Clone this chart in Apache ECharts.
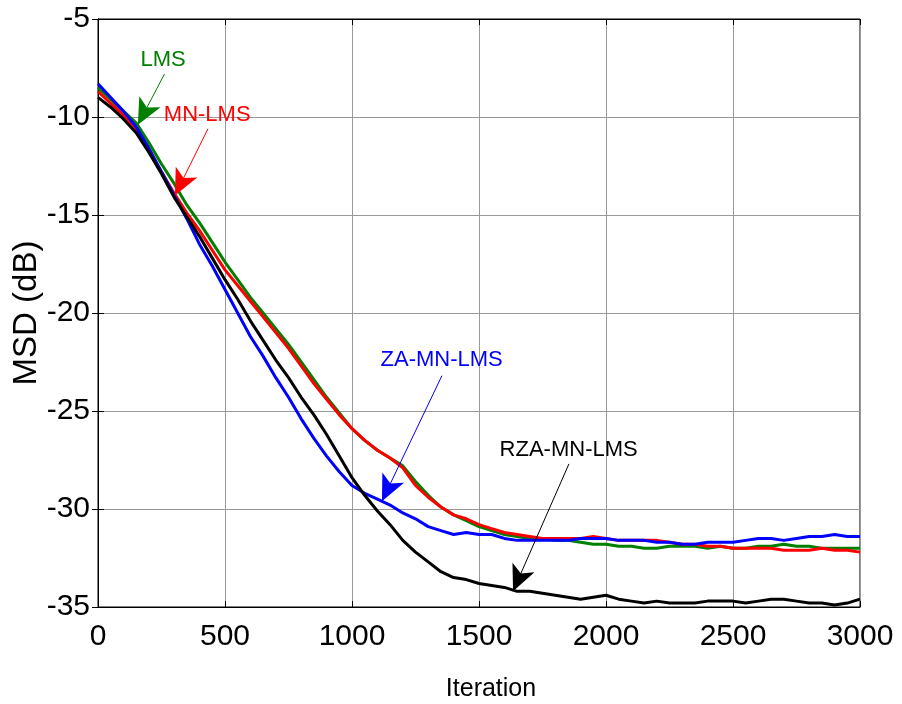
<!DOCTYPE html>
<html>
<head>
<meta charset="utf-8">
<script src="https://cdn.jsdelivr.net/npm/echarts@6/dist/echarts.min.js"></script>
<style>
  html, body { margin: 0; padding: 0; background: #fff; }
  #chart { width: 902px; height: 704px; }
</style>
</head>
<body>
<div id="chart"></div>
<script>
// iteration index (every 50 samples)
const iterations = [
  0, 50, 100, 150, 200, 250, 300, 350, 400, 450,
  500, 550, 600, 650, 700, 750, 800, 850, 900, 950,
  1000, 1050, 1100, 1150, 1200, 1250, 1300, 1350, 1400, 1450,
  1500, 1550, 1600, 1650, 1700, 1750, 1800, 1850, 1900, 1950,
  2000, 2050, 2100, 2150, 2200, 2250, 2300, 2350, 2400, 2450,
  2500, 2550, 2600, 2650, 2700, 2750, 2800, 2850, 2900, 2950, 3000
]
// MSD in dB for each algorithm
const lmsMsd = [
  -8.5, -9.1, -9.7, -10.3, -11.3, -12.4, -13.4, -14.5, -15.4, -16.4,
  -17.4, -18.3, -19.2, -20.0, -20.8, -21.6, -22.5, -23.4, -24.3, -25.1,
  -25.9, -26.5, -27.0, -27.4, -27.8, -28.6, -29.3, -29.9, -30.3, -30.6,
  -30.9, -31.1, -31.3, -31.4, -31.5, -31.5, -31.6, -31.6, -31.7, -31.8,
  -31.8, -31.9, -31.9, -32.0, -32.0, -31.9, -31.9, -31.9, -32.0, -31.9,
  -32.0, -32.0, -31.9, -31.9, -31.8, -31.9, -31.9, -32.0, -32.0, -32.0, -32.0
]
const mnLmsMsd = [
  -8.7, -9.3, -9.9, -10.6, -11.6, -12.8, -13.9, -14.9, -15.8, -16.8,
  -17.8, -18.6, -19.4, -20.2, -21.0, -21.8, -22.7, -23.6, -24.4, -25.2,
  -25.9, -26.5, -27.0, -27.4, -27.9, -28.8, -29.4, -29.9, -30.3, -30.5,
  -30.8, -31.0, -31.2, -31.3, -31.4, -31.5, -31.5, -31.5, -31.5, -31.4,
  -31.5, -31.6, -31.6, -31.6, -31.6, -31.7, -31.8, -31.8, -31.9, -31.9,
  -32.0, -32.0, -32.0, -32.0, -32.1, -32.1, -32.1, -32.0, -32.1, -32.1, -32.2
]
const zaMnLmsMsd = [
  -8.3, -9.0, -9.7, -10.5, -11.6, -12.8, -14.0, -15.2, -16.5, -17.6,
  -18.8, -20.0, -21.2, -22.2, -23.3, -24.3, -25.4, -26.4, -27.3, -28.1,
  -28.8, -29.2, -29.5, -29.8, -30.2, -30.5, -30.9, -31.1, -31.3, -31.2,
  -31.3, -31.3, -31.5, -31.6, -31.6, -31.6, -31.6, -31.6, -31.5, -31.5,
  -31.5, -31.6, -31.6, -31.6, -31.7, -31.7, -31.8, -31.8, -31.7, -31.7,
  -31.7, -31.6, -31.5, -31.5, -31.6, -31.5, -31.4, -31.4, -31.3, -31.4, -31.4
]
const rzaMnLmsMsd = [
  -9.0, -9.5, -10.1, -10.8, -11.8, -12.9, -14.1, -15.1, -16.1, -17.2,
  -18.3, -19.3, -20.4, -21.4, -22.4, -23.3, -24.3, -25.2, -26.2, -27.3,
  -28.4, -29.3, -30.1, -30.8, -31.6, -32.2, -32.7, -33.2, -33.5, -33.6,
  -33.8, -33.9, -34.0, -34.2, -34.2, -34.3, -34.4, -34.5, -34.6, -34.5,
  -34.4, -34.6, -34.7, -34.8, -34.7, -34.8, -34.8, -34.8, -34.7, -34.7,
  -34.7, -34.8, -34.7, -34.6, -34.6, -34.7, -34.8, -34.8, -34.9, -34.8, -34.6
]

const seriesNames = ['LMS', 'MN-LMS', 'ZA-MN-LMS', 'RZA-MN-LMS']
const seriesColors = ['#008000', '#ff0000', '#0000ff', '#000000']

// annotation: text centre, arrow start, arrow tip (data coords)
const notes = [
  { text: [256, -7.1], from: [262, -7.8], to: [157, -10.4] },
  { text: [430, -9.9], from: [433, -10.6], to: [303, -14.0] },
  { text: [1353, -22.4], from: [1354, -23.2], to: [1118, -29.6] },
  { text: [1853, -27.0], from: [1854, -27.7], to: [1634, -34.2] }
]

const font = 'Arial, "Liberation Sans", Helvetica, sans-serif'
const chart = echarts.init(document.getElementById('chart'))

function pairs(ys) {
  return iterations.map((x, i) => [x, ys[i]])
}

const allData = [lmsMsd, mnLmsMsd, zaMnLmsMsd, rzaMnLmsMsd]

const series = allData.map((ys, i) => ({
  name: seriesNames[i],
  type: 'line',
  data: pairs(ys),
  showSymbol: false,
  symbol: 'none',
  lineStyle: { color: seriesColors[i], width: 3 },
  itemStyle: { color: seriesColors[i] },
  animation: false,
  markLine: {
    silent: true,
    animation: false,
    symbol: ['none', 'arrow'],
    symbolSize: [18, 26],
    label: { show: false },
    lineStyle: { color: seriesColors[i], width: 1, type: 'solid' },
    data: [[{ coord: notes[i].from }, { coord: notes[i].to }]]
  }
}))

const tickStyle = { show: true, inside: true, length: 6, lineStyle: { color: '#000', width: 1 } }

chart.setOption({
  backgroundColor: '#fff',
  animation: false,
  grid: {
    left: 98, right: 42, top: 19, bottom: 97,
    outerBoundsMode: 'none',
    show: true, borderColor: '#000', borderWidth: 1, containLabel: false
  },
  xAxis: [{
    type: 'value', min: 0, max: 3000, interval: 500,
    name: 'Iteration', nameLocation: 'middle', nameGap: 70, nameMoveOverlap: false,
    nameTextStyle: { fontSize: 25, fontFamily: font, color: '#000', padding: [0, 0, 0, 24] },
    axisLine: { show: true, lineStyle: { color: '#000', width: 1 } },
    axisTick: tickStyle,
    axisLabel: { fontSize: 30, fontFamily: font, color: '#000', margin: 15, formatter: v => String(v) },
    splitLine: { show: true, lineStyle: { color: '#999', width: 1 } }
  }, {
    type: 'value', min: 0, max: 3000, interval: 500, position: 'top',
    axisLine: { show: true, lineStyle: { color: '#000', width: 1 } },
    axisTick: tickStyle, axisLabel: { show: false }, splitLine: { show: false }
  }],
  yAxis: [{
    type: 'value', min: -35, max: -5, interval: 5,
    name: 'MSD (dB)', nameLocation: 'middle', nameGap: 55, nameMoveOverlap: false,
    nameTextStyle: { fontSize: 33, fontFamily: font, color: '#000' },
    axisLine: { show: true, lineStyle: { color: '#000', width: 1 } },
    axisTick: tickStyle,
    axisLabel: { fontSize: 30, fontFamily: font, color: '#000', margin: 8 },
    splitLine: { show: true, lineStyle: { color: '#999', width: 1 } }
  }, {
    type: 'value', min: -35, max: -5, interval: 5, position: 'right',
    axisLine: { show: true, lineStyle: { color: '#000', width: 1 } },
    axisTick: tickStyle, axisLabel: { show: false }, splitLine: { show: false }
  }],
  series: series
})

// annotation labels placed through the axes' own scales
const labels = notes.map((n, i) => {
  const p = chart.convertToPixel({ xAxisIndex: 0, yAxisIndex: 0 }, n.text)
  return {
    type: 'text',
    x: p[0], y: p[1],
    style: {
      text: seriesNames[i],
      fill: seriesColors[i],
      font: '22px ' + font,
      textAlign: 'center',
      textVerticalAlign: 'middle'
    },
    z: 100
  }
})
chart.setOption({ graphic: labels })
</script>
</body>
</html>
